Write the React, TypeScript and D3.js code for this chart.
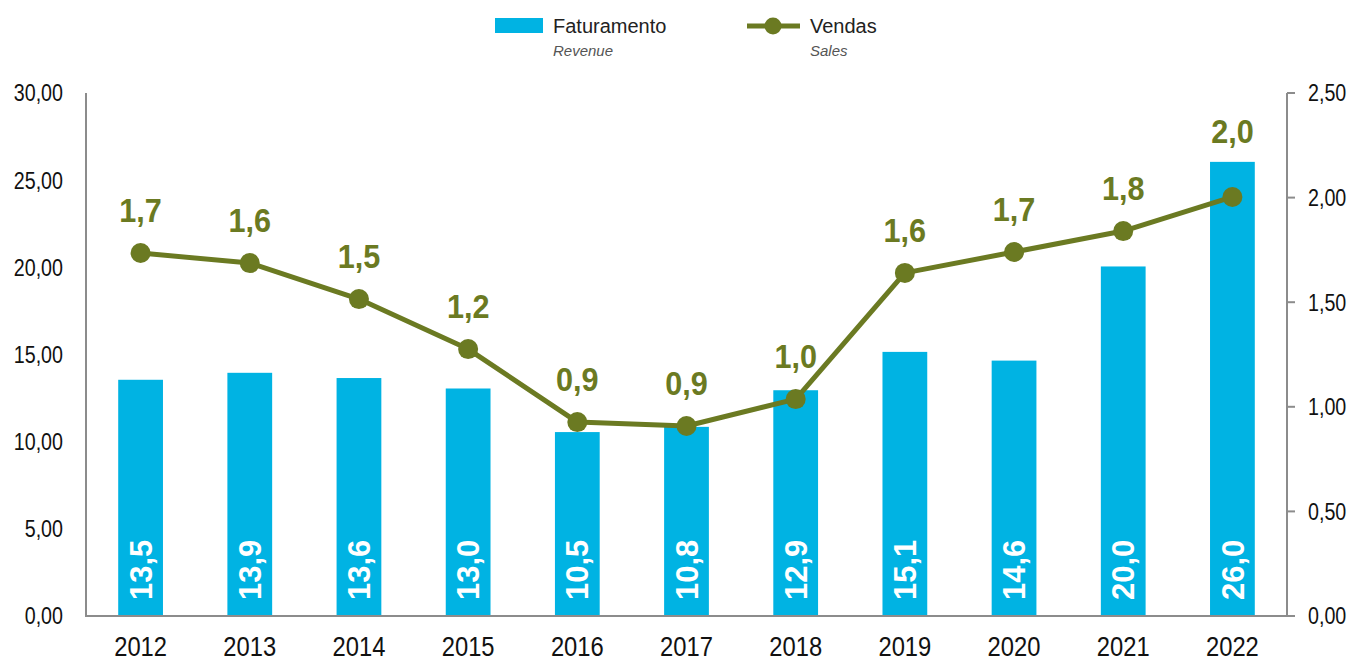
import React from "react";
import * as d3 from "d3";

const years = ["2012","2013","2014","2015","2016","2017","2018","2019","2020","2021","2022"];
const revenue = [13.55, 13.95, 13.65, 13.05, 10.55, 10.85, 12.95, 15.15, 14.65, 20.05, 26.05];
const sales = [1.735, 1.687, 1.515, 1.276, 0.927, 0.908, 1.037, 1.64, 1.74, 1.84, 2.003];
const leftTicks = [0, 5, 10, 15, 20, 25, 30];
const rightTicks = [0, 0.5, 1, 1.5, 2, 2.5];

const W = 1351, H = 663;
const X0 = 86, X1 = 1287, Y0 = 616, Y1 = 93;
const BAR = "#00b3e3";
const LINE = "#6b7a22";
const AXIS = "#8c8c8c";
const FONT = "'Liberation Sans', Arial, sans-serif";

const trunc1 = (v: number) => (Math.floor(v * 10 + 1e-9) / 10).toFixed(1).replace(".", ",");
const fmt2 = (v: number) => v.toFixed(2).replace(".", ",");

export default function App() {
  const x = d3.scaleBand<string>().domain(years).range([X0, X1]).paddingInner(0.59).paddingOuter(0.295);
  const yL = d3.scaleLinear().domain([0, 30]).range([Y0, Y1]);
  const yR = d3.scaleLinear().domain([0, 2.5]).range([Y0, Y1]);
  const cx = (y: string) => (x(y) as number) + x.bandwidth() / 2;
  const line = d3.line<number>().x((_, i) => cx(years[i])).y((d) => yR(d));

  return (
    <svg width={W} height={H} style={{ position: "absolute", left: 0, top: 0, background: "#fff" }} fontFamily={FONT}>
      {/* legend */}
      <g>
        <rect x={495} y={18} width={48} height={15} fill={BAR} />
        <text x={553} y={33} fontSize={20} fill="#222">Faturamento</text>
        <text x={553} y={56} fontSize={15} fontStyle="italic" fill="#555">Revenue</text>
        <line x1={747} x2={800} y1={26} y2={26} stroke={LINE} strokeWidth={5} />
        <circle cx={773} cy={26} r={8.5} fill={LINE} />
        <text x={810} y={33} fontSize={20} fill="#222">Vendas</text>
        <text x={810} y={56} fontSize={15} fontStyle="italic" fill="#555">Sales</text>
      </g>

      {/* bars */}
      {years.map((yr, i) => (
        <rect key={yr} x={x(yr)} y={yL(revenue[i])} width={x.bandwidth()} height={Y0 - yL(revenue[i])} fill={BAR} />
      ))}

      {/* axes */}
      <line x1={X0} x2={X0} y1={Y1} y2={Y0} stroke={AXIS} strokeWidth={2} />
      <line x1={X1} x2={X1} y1={Y1} y2={Y0} stroke={AXIS} strokeWidth={2} />
      <line x1={X0 - 1} x2={X1} y1={Y0} y2={Y0} stroke={AXIS} strokeWidth={2} />
      {rightTicks.map((t) => (
        <line key={t} x1={X1} x2={X1 + 8} y1={yR(t)} y2={yR(t)} stroke={AXIS} strokeWidth={2} />
      ))}
      {leftTicks.map((t) => (
        <text key={t} transform={`translate(63,${yL(t)}) scale(0.82,1)`} dy="0.35em" textAnchor="end" fontSize={24} fill="#111">{fmt2(t)}</text>
      ))}
      {rightTicks.map((t) => (
        <text key={t} transform={`translate(1308,${yR(t)}) scale(0.82,1)`} dy="0.35em" textAnchor="start" fontSize={24} fill="#111">{fmt2(t)}</text>
      ))}
      {years.map((yr) => (
        <text key={yr} transform={`translate(${cx(yr)},656) scale(0.88,1)`} textAnchor="middle" fontSize={27} fill="#111">{yr}</text>
      ))}

      {/* bar labels */}
      {years.map((yr, i) => (
        <text key={yr} transform={`translate(${cx(yr)},${Y0 - 16}) rotate(-90)`} dy="0.36em" textAnchor="start"
          fontSize={31} fontWeight="bold" fill="#fff">{trunc1(revenue[i])}</text>
      ))}

      {/* line */}
      <path d={line(sales) as string} fill="none" stroke={LINE} strokeWidth={5} strokeLinejoin="round" />
      {sales.map((v, i) => (
        <circle key={i} cx={cx(years[i])} cy={yR(v)} r={10} fill={LINE} />
      ))}
      {sales.map((v, i) => (
        <text key={i} transform={`translate(${cx(years[i])},${Math.min(yR(v) - 31, yL(revenue[i]) - 19)}) scale(0.9,1)`} textAnchor="middle"
          fontSize={34} fontWeight="bold" fill={LINE}>{trunc1(v)}</text>
      ))}
    </svg>
  );
}
